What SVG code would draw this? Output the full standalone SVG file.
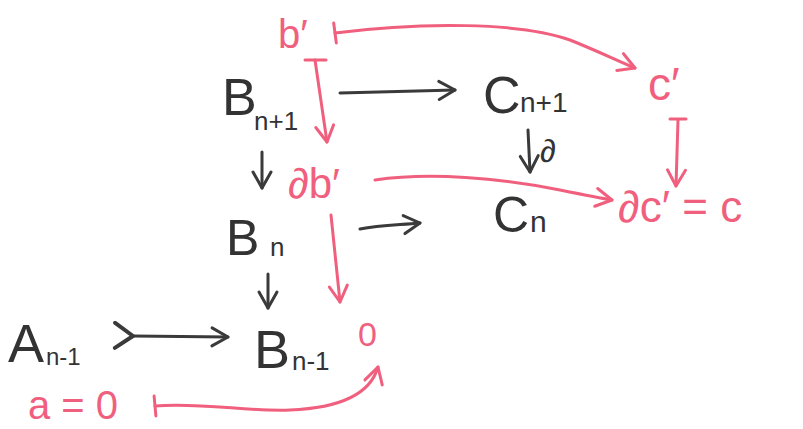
<svg xmlns="http://www.w3.org/2000/svg" width="803" height="429" viewBox="0 0 803 429">
<style>
.k{font-family:"Liberation Sans",Arial,sans-serif;fill:#333}
.p{font-family:"Liberation Sans",Arial,sans-serif;fill:#f0607e}
.kl{fill:none;stroke:#3a3a3a;stroke-width:3;stroke-linecap:round;stroke-linejoin:round}
.pl{fill:none;stroke:#f0607e;stroke-width:3;stroke-linecap:round;stroke-linejoin:round}
</style>
<defs>
<marker id="ak" markerUnits="userSpaceOnUse" markerWidth="30" markerHeight="30" viewBox="-20 -15 24 30" refX="0" refY="0" orient="auto">
<path d="M-16,-9 L0,0 L-16,9" fill="none" stroke="#3a3a3a" stroke-width="3" stroke-linecap="round" stroke-linejoin="round"/>
</marker>
<marker id="ap" markerUnits="userSpaceOnUse" markerWidth="30" markerHeight="30" viewBox="-20 -15 24 30" refX="0" refY="0" orient="auto">
<path d="M-16,-9 L0,0 L-16,9" fill="none" stroke="#f0607e" stroke-width="3" stroke-linecap="round" stroke-linejoin="round"/>
</marker>
<marker id="bp" markerUnits="userSpaceOnUse" markerWidth="30" markerHeight="30" viewBox="-15 -15 30 30" refX="0" refY="0" orient="auto">
<path d="M0,-10 L0,10" fill="none" stroke="#f0607e" stroke-width="3" stroke-linecap="round"/>
</marker>
<marker id="tk" markerUnits="userSpaceOnUse" markerWidth="30" markerHeight="30" viewBox="-20 -15 24 30" refX="0" refY="0" orient="auto">
<path d="M-18,-13 L0,0 L-18,12" fill="none" stroke="#3a3a3a" stroke-width="4" stroke-linecap="round" stroke-linejoin="round"/>
</marker>
</defs>
<g id="connectors">
<path class="kl" d="M340,93 L455,90" marker-end="url(#ak)"/>
<path class="kl" d="M528,130 L530,172" marker-end="url(#ak)"/>
<path class="kl" d="M262,152 L262,188" marker-end="url(#ak)"/>
<path class="kl" d="M360,229 C380,225 400,225 420,223" marker-end="url(#ak)"/>
<path class="kl" d="M268,274 L268,308" marker-end="url(#ak)"/>
<path class="kl" d="M133,336 L228,337" marker-start="url(#tk)" marker-end="url(#ak)"/>
<path class="pl" d="M335,33 C420,22 520,22 570,40 C600,52 620,62 635,68" marker-start="url(#bp)" marker-end="url(#ap)"/>
<path class="pl" d="M315,60 L327,142" marker-end="url(#ap)"/>
<path class="pl" d="M305,60 L326,60"/>
<path class="pl" d="M678,120 L676,186" marker-end="url(#ap)"/>
<path class="pl" d="M670,119 L686,119"/>
<path class="pl" d="M375,180 C430,172 500,178 560,190 C585,195 600,198 612,200" marker-end="url(#ap)"/>
<path class="pl" d="M331,215 L340,302" marker-end="url(#ap)"/>
<path class="pl" d="M155,406 C200,402 250,412 290,410 C340,408 370,395 378,367" marker-start="url(#bp)" marker-end="url(#ap)"/>
</g>
<g id="b1"><text class="p" x="278" y="48" font-size="40">b′</text></g>
<g id="Bn1"><text class="k" x="222" y="115" font-size="52">B</text><text class="k" x="254" y="130" font-size="26">n+1</text></g>
<g id="Cn1"><text class="k" x="483" y="113" font-size="52">C</text><text class="k" x="520" y="112" font-size="28">n+1</text></g>
<g id="c1"><text class="p" x="648" y="100" font-size="46">c′</text></g>
<g id="db1"><text class="p" x="288" y="198" font-size="42">∂b′</text></g>
<g id="dlabel"><text class="k" x="540" y="162" font-size="32">∂</text></g>
<g id="dc1"><text class="p" x="618" y="222" font-size="44">∂c′ = c</text></g>
<g id="Bn"><text class="k" x="226" y="255" font-size="50">B</text><text class="k" x="270" y="256" font-size="26">n</text></g>
<g id="Cn"><text class="k" x="493" y="232" font-size="50">C</text><text class="k" x="530" y="232" font-size="30">n</text></g>
<g id="An_1"><text class="k" x="8" y="362" font-size="54">A</text><text class="k" x="46" y="365" font-size="24">n-1</text></g>
<g id="Bn_1"><text class="k" x="254" y="368" font-size="54">B</text><text class="k" x="292" y="370" font-size="26">n-1</text></g>
<g id="zero"><text class="p" x="358" y="346" font-size="34">0</text></g>
<g id="a0"><text class="p" x="28" y="419" font-size="40">a = 0</text></g>
</svg>
